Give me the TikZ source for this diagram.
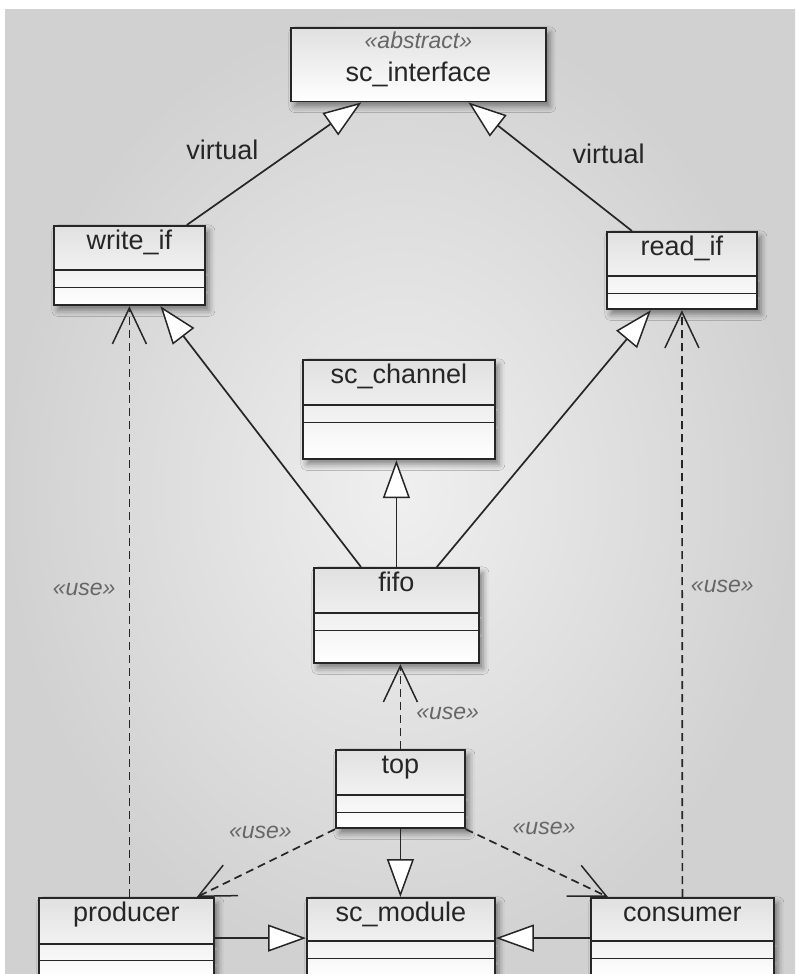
\documentclass[tikz,border=0pt]{standalone}
\usepackage{fontspec}
\setmainfont{Liberation Sans}
\usetikzlibrary{shapes.multipart, arrows.meta, positioning, shadows.blur}

\newcommand{\classfont}{\fontsize{27}{30}\selectfont}
\newcommand{\stereofont}{\itshape\fontsize{23}{26}\selectfont}
% name compartment: baseline 23pt below its top, #2 below the baseline
\newcommand{\clsname}[2]{\rule[-#2]{0pt}{\dimexpr 23pt+#2\relax}#1}
\newcommand{\clsrow}[1]{\rule{0pt}{#1}}

\tikzset{
	umlclass/.style={rectangle split, rectangle split parts=3, draw=black!85, line width=1.8pt,
		inner sep=0pt, anchor=north west, font=\classfont, text=black!85, top color=black!12, bottom color=white,
		blur shadow={shadow xshift=4pt, shadow yshift=-5pt, shadow blur radius=6pt, shadow opacity=45}},
	inherit/.style={draw=black!85, line width=1.7pt, -{Triangle[fill=white, length=38pt, width=27pt, line width=1.5pt]}},
	usedep/.style={draw=black!85, line width=1.7pt, dash pattern=on 8pt off 5pt, -{Straight Barb[length=36pt, width=34pt, line width=1.5pt]}},
	stereo/.style={font=\stereofont, text=black!60, inner sep=0pt},
	lbl/.style={font=\classfont, text=black!85, inner sep=0pt}
}

\begin{document}
\begin{tikzpicture}[x=1pt, y=-1pt]
	\useasboundingbox (0,0) rectangle (795,974);
	\fill[white] (0,0) rectangle (795,974);
	\shade[inner color=black!6, outer color=black!18] (5,10) rectangle (795,974);

	% classes
	\node (scif) [umlclass, rectangle split parts=2, rectangle split draw splits=false, minimum width=255pt] at (290,27)
		{\rule[-8pt]{0pt}{28pt}{\stereofont\color{black!60}«abstract»}\nodepart{second}\clsname{sc\_interface}{19pt}};
	\node (wif) [umlclass, minimum width=151pt] at (53,225)
		{\clsname{write\_if}{19pt}\nodepart{second}\clsrow{16pt}\nodepart{third}\clsrow{16pt}};
	\node (rif) [umlclass, minimum width=150pt] at (606,231)
		{\clsname{read\_if}{19pt}\nodepart{second}\clsrow{16pt}\nodepart{third}\clsrow{14pt}};
	\node (sch) [umlclass, minimum width=192pt] at (302,359)
		{\clsname{sc\_channel}{20pt}\nodepart{second}\clsrow{16pt}\nodepart{third}\clsrow{35pt}};
	\node (fifo) [umlclass, minimum width=165pt] at (313,567)
		{\clsname{fifo}{20pt}\nodepart{second}\clsrow{16pt}\nodepart{third}\clsrow{31pt}};
	\node (top) [umlclass, minimum width=129pt] at (335,749)
		{\clsname{top}{20pt}\nodepart{second}\clsrow{16pt}\nodepart{third}\clsrow{14pt}};
	\node (prod) [umlclass, minimum width=175pt] at (38,897)
		{\clsname{producer}{21pt}\nodepart{second}\clsrow{15pt}\nodepart{third}\clsrow{16pt}};
	\node (scm) [umlclass, minimum width=188pt] at (306,897)
		{\clsname{sc\_module}{18pt}\nodepart{second}\clsrow{16pt}\nodepart{third}\clsrow{18pt}};
	\node (cons) [umlclass, minimum width=183pt] at (590,897)
		{\clsname{consumer}{18pt}\nodepart{second}\clsrow{16pt}\nodepart{third}\clsrow{18pt}};

	% generalisation
	\draw [inherit] ([xshift=-19pt]wif.north east) -- node[pos=.61, left=34pt, lbl] {virtual} ([xshift=-57pt]scif.south);
	\draw [inherit] ([xshift=26pt]rif.north west) -- node[pos=.6, right=38pt, lbl] {virtual} ([xshift=50pt]scif.south);
	\draw [inherit] ([xshift=48pt]fifo.north west) -- ([xshift=31pt]wif.south);
	\draw [inherit] ([xshift=-43pt]fifo.north east) -- ([xshift=-31pt]rif.south);
	\draw [inherit] (fifo.north) -- (fifo.north |- sch.south);
	\draw [inherit] (top.south) -- (top.south |- scm.north);
	\draw [inherit] (prod.east) -- (scm.west);
	\draw [inherit] (cons.west) -- (scm.east);

	% dependencies
	\draw [usedep] (prod.north -| wif.south) -- node[pos=.52, left=13pt, stereo] {«use»} (wif.south);
	\draw [usedep] (cons.north) -- node[pos=.53, right=8pt, stereo] {«use»} (rif.south);
	\draw [usedep] (top.north) -- node[pos=.42, right=15pt, stereo] {«use»} (top.north |- fifo.south);
	\draw [usedep] (top.south west) -- node[pos=.54, above=26pt, stereo] {«use»} ([xshift=-18pt]prod.north east);
	\draw [usedep] (top.south east) -- node[pos=.55, above=31pt, stereo] {«use»} ([xshift=18pt]cons.north west);
\end{tikzpicture}
\end{document}
